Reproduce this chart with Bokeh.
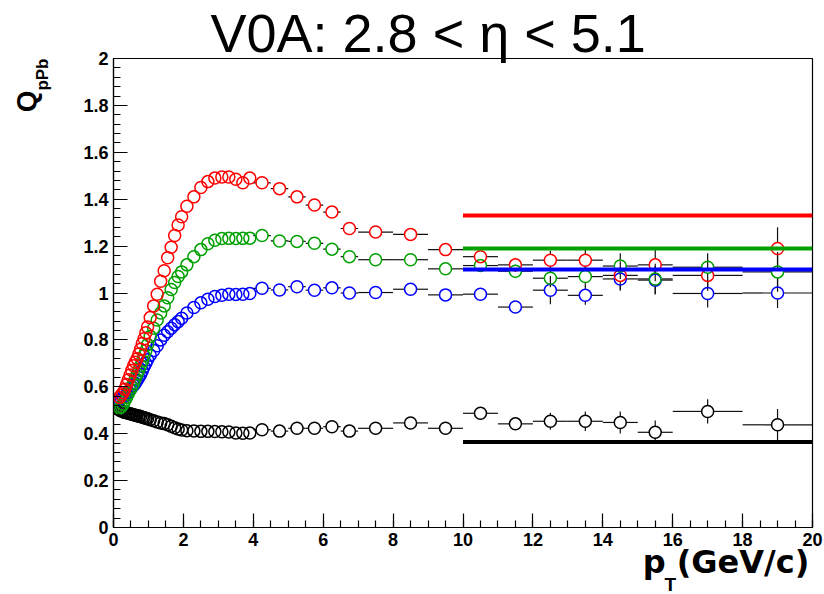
from bokeh.plotting import figure
from bokeh.models import Range1d, SingleIntervalTicker, CustomJSTickFormatter, Title
from bokeh.embed import file_html
from bokeh.resources import INLINE

# ---------------- data ----------------
pt = [0.175, 0.225, 0.275, 0.325, 0.375, 0.425, 0.475, 0.525, 0.575, 0.625, 0.675, 0.725, 0.775, 0.825, 0.875, 0.925, 0.975,
      1.05, 1.15, 1.25, 1.35, 1.45, 1.55, 1.65, 1.75, 1.85, 1.95,
      2.1, 2.3, 2.5, 2.7, 2.9, 3.1, 3.3, 3.5, 3.7, 3.9,
      4.25, 4.75, 5.25, 5.75, 6.25, 6.75, 7.5, 8.5, 9.5, 10.5, 11.5, 12.5, 13.5, 14.5, 15.5, 17, 19]
pt_halfwidth = [0.025, 0.025, 0.025, 0.025, 0.025, 0.025, 0.025, 0.025, 0.025, 0.025, 0.025, 0.025, 0.025, 0.025, 0.025, 0.025, 0.025,
                0.05, 0.05, 0.05, 0.05, 0.05, 0.05, 0.05, 0.05, 0.05, 0.05,
                0.1, 0.1, 0.1, 0.1, 0.1, 0.1, 0.1, 0.1, 0.1, 0.1,
                0.25, 0.25, 0.25, 0.25, 0.25, 0.25, 0.5, 0.5, 0.5, 0.5, 0.5, 0.5, 0.5, 0.5, 0.5, 1.0, 1.0]

q_red = [0.555, 0.565, 0.575, 0.59, 0.61, 0.63, 0.65, 0.67, 0.69, 0.705, 0.72, 0.74, 0.76, 0.785, 0.805, 0.83, 0.855,
         0.895, 0.945, 0.995, 1.05, 1.095, 1.15, 1.195, 1.245, 1.29, 1.325,
         1.37, 1.41, 1.45, 1.475, 1.49, 1.495, 1.495, 1.485, 1.47, 1.49,
         1.47, 1.445, 1.41, 1.375, 1.345, 1.275, 1.26, 1.25, 1.185, 1.155, 1.12, 1.14, 1.14, 1.075, 1.12, 1.075, 1.19]
q_green = [0.51, 0.515, 0.525, 0.54, 0.555, 0.57, 0.585, 0.60, 0.615, 0.635, 0.655, 0.672, 0.69, 0.71, 0.733, 0.755, 0.78,
           0.815, 0.85, 0.885, 0.915, 0.945, 0.98, 1.015, 1.045, 1.07, 1.09,
           1.12, 1.155, 1.185, 1.21, 1.225, 1.232, 1.233, 1.232, 1.233, 1.234,
           1.245, 1.222, 1.22, 1.212, 1.187, 1.155, 1.142, 1.142, 1.103, 1.117, 1.093, 1.063, 1.07, 1.115, 1.06, 1.11, 1.09]
q_blue = [0.545, 0.55, 0.555, 0.56, 0.568, 0.578, 0.588, 0.598, 0.607, 0.615, 0.628, 0.64, 0.652, 0.668, 0.685, 0.70, 0.715,
          0.735, 0.755, 0.775, 0.80, 0.82, 0.835, 0.85, 0.865, 0.878, 0.892,
          0.915, 0.938, 0.958, 0.973, 0.985, 0.99, 0.995, 0.994, 0.995, 0.998,
          1.02, 1.013, 1.027, 1.012, 1.022, 1.0, 1.002, 1.016, 0.992, 0.995, 0.94, 1.012, 0.99, 1.06, 1.055, 0.998, 1.0]
q_black = [0.50, 0.497, 0.494, 0.491, 0.489, 0.487, 0.485, 0.483, 0.481, 0.479, 0.477, 0.475, 0.473, 0.47, 0.468, 0.466, 0.464,
           0.46, 0.455, 0.45, 0.446, 0.443, 0.438, 0.432, 0.425, 0.42, 0.416,
           0.413, 0.412, 0.41, 0.41, 0.409, 0.408, 0.407, 0.403, 0.402, 0.403,
           0.417, 0.411, 0.423, 0.423, 0.43, 0.411, 0.423, 0.446, 0.423, 0.487, 0.442, 0.453, 0.453, 0.448, 0.406, 0.495, 0.438]

err_red = [0.002, 0.002, 0.002, 0.002, 0.002, 0.002, 0.002, 0.002, 0.002, 0.002, 0.002, 0.002, 0.002, 0.002, 0.002, 0.002, 0.002,
           0.003, 0.003, 0.003, 0.003, 0.003, 0.003, 0.003, 0.003, 0.003, 0.003,
           0.004, 0.004, 0.004, 0.004, 0.004, 0.004, 0.004, 0.004, 0.004, 0.004,
           0.006, 0.007, 0.008, 0.009, 0.01, 0.011, 0.012, 0.014, 0.016, 0.02, 0.03, 0.04, 0.045, 0.06, 0.07, 0.065, 0.09]
err_green = [0.002, 0.002, 0.002, 0.002, 0.002, 0.002, 0.002, 0.002, 0.002, 0.002, 0.002, 0.002, 0.002, 0.002, 0.002, 0.002, 0.002,
             0.003, 0.003, 0.003, 0.003, 0.003, 0.003, 0.003, 0.003, 0.003, 0.003,
             0.004, 0.004, 0.004, 0.004, 0.004, 0.004, 0.004, 0.004, 0.004, 0.004,
             0.006, 0.007, 0.008, 0.009, 0.01, 0.011, 0.012, 0.013, 0.015, 0.02, 0.028, 0.038, 0.042, 0.055, 0.065, 0.06, 0.085]
err_blue = [0.002, 0.002, 0.002, 0.002, 0.002, 0.002, 0.002, 0.002, 0.002, 0.002, 0.002, 0.002, 0.002, 0.002, 0.002, 0.002, 0.002,
            0.003, 0.003, 0.003, 0.003, 0.003, 0.003, 0.003, 0.003, 0.003, 0.003,
            0.004, 0.004, 0.004, 0.004, 0.004, 0.004, 0.004, 0.004, 0.004, 0.004,
            0.005, 0.006, 0.007, 0.008, 0.009, 0.01, 0.011, 0.012, 0.014, 0.018, 0.025, 0.06, 0.04, 0.05, 0.06, 0.06, 0.064]
err_black = [0.002, 0.002, 0.002, 0.002, 0.002, 0.002, 0.002, 0.002, 0.002, 0.002, 0.002, 0.002, 0.002, 0.002, 0.002, 0.002, 0.002,
             0.002, 0.002, 0.002, 0.002, 0.002, 0.002, 0.002, 0.002, 0.002, 0.002,
             0.003, 0.003, 0.003, 0.003, 0.003, 0.003, 0.003, 0.003, 0.003, 0.003,
             0.004, 0.004, 0.005, 0.005, 0.006, 0.006, 0.007, 0.008, 0.01, 0.015, 0.02, 0.036, 0.042, 0.047, 0.05, 0.052, 0.067]

ref_levels = {"red": 1.33, "green": 1.19, "blue": 1.10, "black": 0.365}
ref_x_start, ref_x_end = 10, 20

series_colors = {"red": "#ff0000", "green": "#00a000", "blue": "#0000ff", "black": "#000000"}
series = [("black", q_black, err_black), ("blue", q_blue, err_blue),
          ("green", q_green, err_green), ("red", q_red, err_red)]

title_text = "V0A: 2.8 < η < 5.1"
ylabel_main, ylabel_sub = "Q", "pPb"
xlabel_main, xlabel_sub = "p  (GeV/c)", "T"

# ---------------- layout ----------------
W, H = 824, 594
FL, FR, FT, FB = 113, 812, 58, 527
X0, X1, Y0, Y1 = 0, 20, 0, 2
ppx = (FR - FL) / (X1 - X0)
ppy = (FB - FT) / (Y1 - Y0)

p = figure(width=W, height=H, x_range=Range1d(X0, X1), y_range=Range1d(Y0, Y1),
           output_backend="svg", toolbar_location=None, title=None,
           min_border_left=FL, min_border_right=W - FR, min_border_top=FT, min_border_bottom=H - FB)
p.background_fill_color = "white"
p.border_fill_color = "white"
p.outline_line_color = "black"
p.outline_line_width = 1.2
p.xgrid.visible = False
p.ygrid.visible = False

fmt = CustomJSTickFormatter(code="return String(parseFloat(tick.toFixed(2)));")
p.xaxis.ticker = SingleIntervalTicker(interval=2, num_minor_ticks=4)
p.yaxis.ticker = SingleIntervalTicker(interval=0.2, num_minor_ticks=5)
for ax in (p.xaxis[0], p.yaxis[0]):
    ax.formatter = fmt
    ax.major_tick_in = 14
    ax.major_tick_out = 0
    ax.minor_tick_in = 7
    ax.minor_tick_out = 0
    ax.axis_line_color = "black"
    ax.axis_line_width = 1.2
    ax.major_tick_line_color = "black"
    ax.minor_tick_line_color = "black"
    ax.major_tick_line_width = 1.2
    ax.minor_tick_line_width = 1.2
    ax.major_label_text_font = "Liberation Sans"
    ax.major_label_text_font_style = "bold"
    ax.major_label_text_font_size = "18px"
    ax.major_label_text_color = "black"
    ax.major_label_standoff = 5

# blank spacer label on the y axis: pushes the y-title panels outward
p.yaxis[0].axis_label = " "
p.yaxis[0].axis_label_text_font_size = "10px"
p.yaxis[0].axis_label_standoff = 15
p.yaxis[0].axis_label_text_alpha = 0

# ---------------- marks ----------------
marker_r = 6.0  # marker radius in px: error bars stop at marker edge
gx = marker_r / ppx
gy = marker_r / ppy

for name, q, e in series:
    x0s, x1s, y0s, y1s = [], [], [], []
    for xi, xe, yi, ye in zip(pt, pt_halfwidth, q, e):
        if xe > gx:
            x0s += [xi - xe, xi + gx]
            x1s += [xi - gx, xi + xe]
            y0s += [yi, yi]
            y1s += [yi, yi]
        if ye > gy:
            x0s += [xi, xi]
            x1s += [xi, xi]
            y0s += [yi - ye, yi + gy]
            y1s += [yi - gy, yi + ye]
    p.segment(x0=x0s, y0=y0s, x1=x1s, y1=y1s, line_color="#111111", line_width=1.2)

for name, q, e in series:
    p.scatter(x=pt, y=q, marker="circle", size=12, fill_color=None,
              line_color=series_colors[name], line_width=1.5)

for name in ["red", "green", "blue", "black"]:
    lvl = ref_levels[name]
    p.segment(x0=[ref_x_start], x1=[ref_x_end], y0=[lvl], y1=[lvl],
              line_color=series_colors[name], line_width=4)

# ---------------- texts (side-panel titles) ----------------
p.add_layout(Title(text=title_text, align="left", offset=97, vertical_align="bottom", standoff=-8,
                   text_font="Liberation Sans", text_font_size="54px", text_font_style="normal",
                   text_color="black"), "above")

p.add_layout(Title(text=ylabel_sub, align="right", offset=0, vertical_align="bottom", standoff=0,
                   text_font="Liberation Sans", text_font_size="17px", text_font_style="bold",
                   text_color="black"), "left")
p.add_layout(Title(text=ylabel_main, align="right", offset=32, vertical_align="bottom", standoff=-22,
                   text_font="Liberation Sans", text_font_size="28px", text_font_style="bold",
                   text_color="black"), "left")

p.add_layout(Title(text=xlabel_main, align="right", offset=-8, vertical_align="top", standoff=-12,
                   text_font="DejaVu Sans", text_font_size="32px", text_font_style="bold",
                   text_color="black"), "below")
p.add_layout(Title(text=xlabel_sub, align="left", offset=551, vertical_align="bottom", standoff=-10,
                   text_font="Liberation Sans", text_font_size="19px", text_font_style="bold",
                   text_color="black"), "below")

open("out.html", "w").write(file_html(p, INLINE))
